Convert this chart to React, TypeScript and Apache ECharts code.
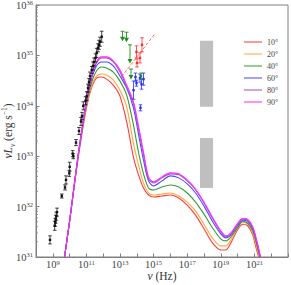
import React, { useEffect, useRef } from "react";
import * as echarts from "echarts";

// log10(nu / Hz) grid shared by the model curves
const logNu = [9.6, 9.7, 10.0, 10.5, 11.0, 11.3, 11.6, 11.9, 12.2, 12.6, 13.0, 13.4, 13.8, 14.1, 14.4, 14.7, 15.0, 15.5, 16.0, 16.5, 17.0, 17.5, 18.0, 18.5, 19.0, 19.3, 19.6, 20.0, 20.3, 20.6, 20.9, 21.1, 21.3, 21.45];

// log10(nu L_nu / erg s^-1) for each viewing angle
const sed10 = [30.74, 31.00, 31.71, 32.94, 33.96, 34.35, 34.55, 34.57, 34.53, 34.41, 34.19, 33.68, 32.98, 32.63, 32.37, 32.23, 32.19, 32.21, 32.23, 32.17, 32.03, 31.83, 31.56, 31.28, 31.14, 31.14, 31.28, 31.54, 31.65, 31.62, 31.44, 31.18, 30.94, 30.68];
const sed20 = [30.74, 31.00, 31.71, 32.96, 34.00, 34.39, 34.59, 34.63, 34.61, 34.51, 34.31, 33.98, 33.26, 32.83, 32.47, 32.27, 32.23, 32.25, 32.27, 32.21, 32.09, 31.91, 31.65, 31.38, 31.22, 31.22, 31.34, 31.58, 31.69, 31.65, 31.48, 31.24, 30.98, 30.72];
const sed40 = [30.74, 31.00, 31.71, 32.98, 34.04, 34.45, 34.69, 34.77, 34.75, 34.67, 34.49, 34.21, 33.62, 33.08, 32.65, 32.37, 32.33, 32.39, 32.43, 32.39, 32.27, 32.09, 31.85, 31.58, 31.36, 31.32, 31.40, 31.58, 31.71, 31.67, 31.52, 31.30, 31.02, 30.76];
const sed60 = [30.74, 31.00, 31.71, 33.00, 34.08, 34.53, 34.79, 34.87, 34.87, 34.79, 34.59, 34.35, 33.96, 33.44, 32.92, 32.51, 32.41, 32.51, 32.61, 32.57, 32.45, 32.27, 32.01, 31.71, 31.46, 31.38, 31.44, 31.62, 31.73, 31.71, 31.56, 31.34, 31.06, 30.80];
const sed80 = [30.74, 31.00, 31.71, 33.00, 34.10, 34.57, 34.85, 34.95, 34.95, 34.87, 34.67, 34.37, 34.04, 33.54, 33.02, 32.55, 32.47, 32.57, 32.65, 32.63, 32.51, 32.33, 32.07, 31.77, 31.50, 31.40, 31.46, 31.65, 31.75, 31.73, 31.58, 31.36, 31.08, 30.82];
const sed90 = [30.74, 31.00, 31.71, 33.00, 34.10, 34.59, 34.87, 34.97, 34.97, 34.89, 34.71, 34.41, 34.08, 33.60, 33.08, 32.59, 32.49, 32.59, 32.67, 32.65, 32.53, 32.35, 32.09, 31.79, 31.52, 31.42, 31.48, 31.67, 31.77, 31.75, 31.60, 31.38, 31.10, 30.84];

const angleNames = ["10°", "20°", "40°", "60°", "80°", "90°"];
const angleColors = ["#ff3b3b", "#ffa640", "#3a993a", "#4a4aff", "#a650c8", "#ff2bff"];
const angleSeds = [sed10, sed20, sed40, sed60, sed80, sed90];

// observed radio/mm points: [log nu, log nuLnu, error (dex)]
const radioPoints = [
  [8.833, 31.34, 0.08], [9.113, 31.62, 0.09], [9.149, 31.69, 0.08], [9.173, 31.75, 0.08], [9.208, 31.81, 0.08], [9.25, 31.89, 0.08],
  [9.536, 32.21, 0.04], [9.726, 32.38, 0.05], [9.786, 32.53, 0.08], [9.982, 32.66, 0.06], [10.006, 32.79, 0.09],
  [10.185, 33.05, 0.06], [10.22, 33.00, 0.05], [10.381, 33.27, 0.06], [10.56, 33.50, 0.07], [10.679, 33.69, 0.08],
  [10.738, 33.80, 0.07], [10.815, 34.00, 0.08], [10.946, 34.10, 0.08], [11.018, 34.19, 0.09], [11.095, 34.35, 0.08],
  [11.155, 34.47, 0.07], [11.214, 34.59, 0.08], [11.315, 34.71, 0.07], [11.393, 34.79, 0.08], [11.452, 34.87, 0.08],
  [11.542, 34.95, 0.08], [11.613, 35.05, 0.09], [11.69, 35.15, 0.08], [11.75, 35.21, 0.09], [11.81, 35.27, 0.09], [11.911, 35.37, 0.11],
];
// IR/optical points
const redPoints = [[13.982, 35.07, 0.12], [14.012, 34.85, 0.08], [14.19, 34.95, 0.10], [14.31, 35.21, 0.14]];
const bluePoints = [[13.804, 34.31, 0.18], [13.923, 34.57, 0.08], [13.982, 34.45, 0.06], [14.19, 34.55, 0.08], [14.28, 34.43, 0.10], [14.40, 34.53, 0.12], [14.22, 33.96, 0.06]];
const greenPoint = [[14.25, 34.59, 0.06]];
// upper limits: [log nu, top, arrow]
const greenLimits = [[13.149, 35.48, 35.31], [13.387, 35.46, 35.29], [13.595, 35.21, 34.87], [13.655, 34.73, 34.55]];
// power law fit (dashed)
const fitLine = [[13.10, 34.58], [15.08, 35.43]];
// X-ray bands: [x1, x2, yTop, yBottom]
const xrayBands = [[17.76, 18.54, 35.29, 33.98], [17.76, 18.54, 33.36, 32.37]];

const yTicks = [31, 32, 33, 34, 35];
const minorFactors = [2, 3, 4, 5, 6, 7, 8, 9];
const xLabelled = [9, 11, 13, 15, 17, 19, 21];

const FONT = "Liberation Serif";

export default function App() {
  const ref = useRef<HTMLDivElement>(null);
  useEffect(() => {
    if (!ref.current) return;
    const chart = echarts.init(ref.current, null, { renderer: "svg" });

    const minorTicks: number[][] = [];
    yTicks.forEach((n) => minorFactors.forEach((k) => minorTicks.push([8, n + Math.log10(k)])));

    const errSeries = (data: number[][], color: string, z: number) => ({
      type: "custom",
      z,
      data,
      encode: { x: 0, y: 1 },
      renderItem: (params: any, api: any) => {
        const x = api.value(0), y = api.value(1), e = api.value(2);
        const c = api.coord([x, y]);
        const lo = api.coord([x, y - e]);
        const hi = api.coord([x, y + e]);
        const st = { stroke: color, lineWidth: 0.8 };
        return {
          type: "group",
          children: [
            { type: "line", shape: { x1: c[0], y1: lo[1], x2: c[0], y2: hi[1] }, style: st },
            { type: "line", shape: { x1: c[0] - 1.8, y1: lo[1], x2: c[0] + 1.8, y2: lo[1] }, style: st },
            { type: "line", shape: { x1: c[0] - 1.8, y1: hi[1], x2: c[0] + 1.8, y2: hi[1] }, style: st },
            { type: "rect", shape: { x: c[0] - 1.2, y: c[1] - 1.2, width: 2.4, height: 2.4 }, style: { fill: color } },
          ],
        };
      },
    });

    const lineSeries = angleSeds.map((sed, i) => ({
      type: "line",
      name: angleNames[i],
      data: logNu.map((x, j) => [x, sed[j]]),
      smooth: 0.3,
      showSymbol: false,
      symbol: "none",
      lineStyle: { color: angleColors[i], width: 1.1 },
      itemStyle: { color: angleColors[i] },
      z: 3 + i,
    }));

    const supRichY = {
      b: { fontFamily: FONT, fontSize: 10.5, color: "#444", verticalAlign: "bottom", lineHeight: 12 },
      s: { fontFamily: FONT, fontSize: 6.5, color: "#444", verticalAlign: "top", lineHeight: 12 },
    };
    const supRichX = {
      b: { fontFamily: FONT, fontSize: 10.5, color: "#444", verticalAlign: "bottom", lineHeight: 11 },
      s: { fontFamily: FONT, fontSize: 6.5, color: "#444", verticalAlign: "top", lineHeight: 11 },
    };

    chart.setOption({
      animation: false,
      grid: { left: 36, right: 3, top: 5, bottom: 28, show: true, borderColor: "#808080", borderWidth: 1, backgroundColor: "transparent", outerBoundsMode: "none", containLabel: false },
      legend: {
        data: angleNames,
        orient: "vertical",
        left: 239,
        top: 32,
        icon: "rect",
        itemWidth: 18,
        itemHeight: 1.6,
        itemGap: 2,
        itemStyle: { opacity: 0.65 },
        textStyle: { fontFamily: FONT, fontSize: 8, color: "#444", lineHeight: 10 },
      },
      xAxis: {
        type: "value",
        min: 8,
        max: 23,
        interval: 1,
        splitLine: { show: false },
        axisLine: { lineStyle: { color: "#808080" } },
        axisTick: { inside: true, length: 3.5, lineStyle: { color: "#808080" } },
        axisLabel: {
          margin: 2,
          formatter: (v: number) => (xLabelled.includes(Math.round(v)) ? `{b|10}{s|${Math.round(v)}}` : ""),
          rich: supRichX,
        },
        name: "{i|ν} (Hz)",
        nameLocation: "middle",
        nameGap: 13,
        nameMoveOverlap: false,
        nameTextStyle: {
          fontFamily: FONT, fontSize: 11.5, color: "#333",
          rich: { i: { fontFamily: FONT, fontStyle: "italic", fontSize: 11.5, color: "#333" } },
        },
      },
      yAxis: {
        type: "value",
        min: 31,
        max: 36,
        interval: 1,
        splitLine: { show: false },
        axisLine: { lineStyle: { color: "#808080" } },
        axisTick: { inside: true, length: 3.5, lineStyle: { color: "#808080" } },
        axisLabel: {
          margin: 3,
          formatter: (v: number) => `{b|10}{s|${Math.round(v)}}`,
          rich: supRichY,
        },
        name: "{i|νL}{sub|ν} (erg s{sup|−1})",
        nameLocation: "middle",
        nameRotate: 90,
        nameGap: 20,
        nameMoveOverlap: false,
        nameTextStyle: {
          fontFamily: FONT, fontSize: 11.5, color: "#333", lineHeight: 16,
          rich: {
            i: { fontFamily: FONT, fontStyle: "italic", fontSize: 11.5, color: "#333", verticalAlign: "middle", lineHeight: 16 },
            sub: { fontFamily: FONT, fontStyle: "italic", fontSize: 7.5, color: "#333", verticalAlign: "bottom", lineHeight: 16 },
            sup: { fontFamily: FONT, fontSize: 7.5, color: "#333", verticalAlign: "top", lineHeight: 16 },
          },
        },
      },
      series: [
        {
          type: "custom",
          z: 1,
          data: xrayBands,
          encode: { x: [0, 1], y: [2, 3] },
          renderItem: (params: any, api: any) => {
            const p1 = api.coord([api.value(0), api.value(2)]);
            const p2 = api.coord([api.value(1), api.value(3)]);
            return { type: "rect", shape: { x: p1[0], y: p1[1], width: p2[0] - p1[0], height: p2[1] - p1[1] }, style: { fill: "#bfbfbf" } };
          },
        },
        {
          type: "custom",
          z: 2,
          data: minorTicks,
          encode: { x: 0, y: 1 },
          renderItem: (params: any, api: any) => {
            const p = api.coord([api.value(0), api.value(1)]);
            return { type: "line", shape: { x1: p[0], y1: p[1], x2: p[0] + 2, y2: p[1] }, style: { stroke: "#808080", lineWidth: 0.8 } };
          },
        },
        ...lineSeries,
        {
          type: "line",
          data: fitLine,
          showSymbol: false,
          symbol: "none",
          lineStyle: { color: "#ff3b3b", width: 0.8, type: [3, 2] },
          z: 10,
        },
        errSeries(radioPoints, "#111", 12),
        errSeries(bluePoints, "#2a2aff", 12),
        errSeries(redPoints, "#ff2a2a", 12),
        errSeries(greenPoint, "#1f8f1f", 12),
        {
          type: "custom",
          z: 13,
          data: greenLimits,
          encode: { x: 0, y: [1, 2] },
          renderItem: (params: any, api: any) => {
            const t = api.coord([api.value(0), api.value(1)]);
            const b = api.coord([api.value(0), api.value(2)]);
            const st = { stroke: "#1f8f1f", lineWidth: 0.9 };
            return {
              type: "group",
              children: [
                { type: "line", shape: { x1: t[0], y1: t[1], x2: b[0], y2: b[1] }, style: st },
                { type: "line", shape: { x1: t[0] - 2, y1: t[1], x2: t[0] + 2, y2: t[1] }, style: st },
                { type: "polygon", shape: { points: [[b[0] - 2.5, b[1] - 3], [b[0] + 2.5, b[1] - 3], [b[0], b[1] + 1.5]] }, style: { fill: "#1f8f1f" } },
              ],
            };
          },
        },
      ],
    });
    return () => chart.dispose();
  }, []);
  return <div ref={ref} style={{ position: "absolute", left: 0, top: 0, width: 291, height: 285 }} />;
}
